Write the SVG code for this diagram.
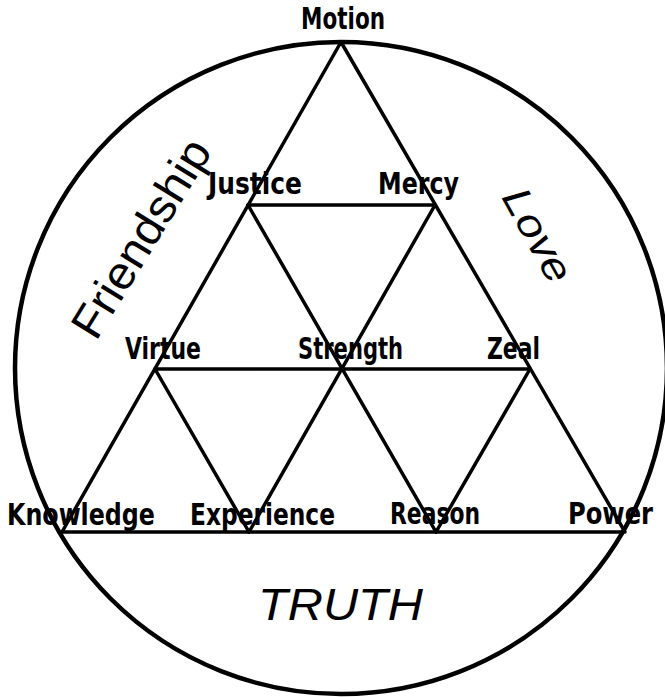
<svg xmlns="http://www.w3.org/2000/svg" width="665" height="697" viewBox="0 0 665 697">
  <style>
    .lbl { font-family: "Liberation Sans Narrow", "DejaVu Sans Condensed", "Liberation Sans", sans-serif; font-weight: bold; font-size: 31px; fill: #000; }
    .big { font-family: "Liberation Sans", "DejaVu Sans", sans-serif; fill: #000; }
    .ln { stroke: #000; stroke-width: 3.5; fill: none; stroke-linecap: round; stroke-linejoin: round; }
    .circ { stroke: #000; stroke-width: 4.5; fill: none; }
  </style>
  <rect width="665" height="697" fill="#fff"/>
  <g id="frame">
    <circle class="circ" cx="341" cy="368" r="326"/>
  </g>
  <g id="connectors">
    <path class="ln" d="M341,42 L62,532 L625,532 Z"/>
    <line class="ln" x1="248" y1="205" x2="435" y2="205"/>
    <line class="ln" x1="155" y1="369" x2="530" y2="369"/>
    <line class="ln" x1="248" y1="205" x2="436" y2="532"/>
    <line class="ln" x1="435" y1="205" x2="249" y2="532"/>
    <line class="ln" x1="155" y1="369" x2="249" y2="532"/>
    <line class="ln" x1="530" y1="369" x2="436" y2="532"/>
  </g>
  <g id="motion"><text class="lbl" x="301" y="29" textLength="84" lengthAdjust="spacingAndGlyphs">Motion</text></g>
  <g id="justice"><text class="lbl" x="208" y="194" textLength="94" lengthAdjust="spacingAndGlyphs">Justice</text></g>
  <g id="mercy"><text class="lbl" x="378" y="194" textLength="81" lengthAdjust="spacingAndGlyphs">Mercy</text></g>
  <g id="virtue"><text class="lbl" x="125" y="359" textLength="76" lengthAdjust="spacingAndGlyphs">Virtue</text></g>
  <g id="strength"><text class="lbl" x="298" y="359" textLength="105" lengthAdjust="spacingAndGlyphs">Strength</text></g>
  <g id="zeal"><text class="lbl" x="487" y="359" textLength="53" lengthAdjust="spacingAndGlyphs">Zeal</text></g>
  <g id="knowledge"><text class="lbl" x="7" y="525" textLength="148" lengthAdjust="spacingAndGlyphs">Knowledge</text></g>
  <g id="experience"><text class="lbl" x="190" y="525" textLength="145" lengthAdjust="spacingAndGlyphs">Experience</text></g>
  <g id="reason"><text class="lbl" x="390" y="524" textLength="90" lengthAdjust="spacingAndGlyphs">Reason</text></g>
  <g id="power"><text class="lbl" x="568" y="524" textLength="85" lengthAdjust="spacingAndGlyphs">Power</text></g>
  <g id="friendship"><text class="big" font-size="46" transform="translate(96,342) rotate(-58.5)" textLength="224" lengthAdjust="spacingAndGlyphs">Friendship</text></g>
  <g id="love"><text class="big" font-size="40" font-style="italic" transform="translate(501,197) rotate(61)" textLength="102" lengthAdjust="spacingAndGlyphs">Love</text></g>
  <g id="truth"><text class="big" font-size="44" font-style="italic" x="258" y="620" textLength="165" lengthAdjust="spacingAndGlyphs">TRUTH</text></g>
</svg>
